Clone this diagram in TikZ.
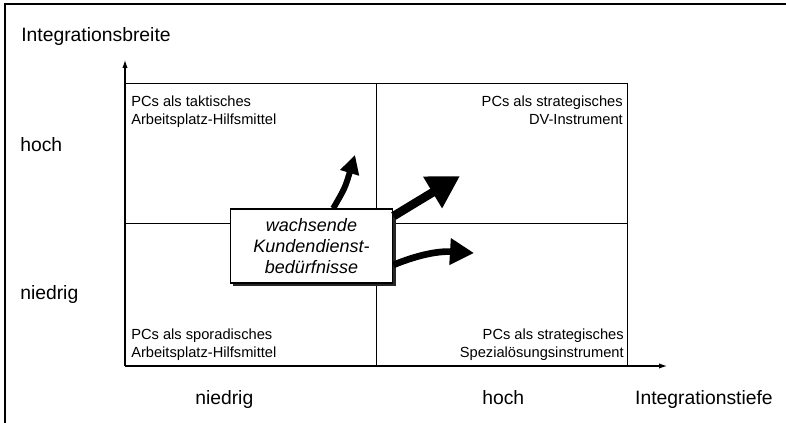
\documentclass[tikz,border=0pt]{standalone}
\usepackage{fontspec}
\setmainfont{Liberation Sans}
\usetikzlibrary{arrows.meta,shadows}

\begin{document}
\begin{tikzpicture}[x=0.75pt,y=-0.75pt,
		achse/.style={line width=0.8pt,-{Latex[length=6pt,width=4pt]}},
		feld/.style={line width=0.75pt},
		quad/.style={font=\fontsize{11}{13}\selectfont,inner sep=0pt},
		lbl/.style={font=\fontsize{14.5}{17}\selectfont,inner sep=0pt},
		kasten/.style={draw,fill=white,line width=0.9pt,align=center,
			font=\fontsize{13.5}{15.75}\selectfont\itshape,
			minimum width=122pt,minimum height=55.5pt,inner sep=2pt,
			drop shadow={shadow xshift=2pt,shadow yshift=-2pt,fill=black!85,opacity=1}},
		pfeil/.style={line width=#1,line cap=butt}]
				\useasboundingbox (0,0) rectangle (786,423);
				\draw[line width=1.3pt] (5,423) -- (5,4) -- (786,4);
				
				\coordinate (O) at (125,366);
				\coordinate (ytip) at (125,60);
				\coordinate (xtip) at (667,366);
				\draw[feld] (O) rectangle (627,84);
				\draw[feld] (376,84) -- (376,366);
				\draw[feld] (125,224) -- (627,224);
				\draw[achse] (O) -- (ytip);
				\draw[achse] (O) -- (xtip);
				
				\node[quad,anchor=north west,align=left] (tl) at (131,96) {PCs als taktisches\\Arbeitsplatz-Hilfsmittel};
				\node[quad,anchor=north east,align=right] (tr) at (623,96) {PCs als strategisches\\DV-Instrument};
				\node[quad,anchor=north west,align=left] (bl) at (131,329) {PCs als sporadisches\\Arbeitsplatz-Hilfsmittel};
				\node[quad,anchor=north east,align=right] (br) at (624,329) {PCs als strategisches\\Spezialösungsinstrument};
				
				\node[lbl,anchor=base west] (breite) at (21,42) {Integrationsbreite};
				\node[lbl,anchor=base west] (yhoch) at (20,152) {hoch};
				\node[lbl,anchor=base west] (yniedrig) at (20,300) {niedrig};
				\node[lbl,anchor=base west] (xniedrig) at (195,405) {niedrig};
				\node[lbl,anchor=base west] (xhoch) at (482,405) {hoch};
				\node[lbl,anchor=base east] (tiefe) at (773,405) {Integrationstiefe};
				
				\node[kasten] (kd) at (311.5,246) {wachsende\\Kundendienst-\\bedürfnisse};
				
				\coordinate (a1) at (355,155);
				\coordinate (a2) at (460,176);
				\coordinate (a3) at (474,253);
				\draw[pfeil=4.5pt,-{Triangle[length=14pt,width=14pt]}] (kd.60) .. controls (345,188) .. (a1);
				\draw[pfeil=6.5pt,-{Triangle[length=24pt,width=26pt]}] (kd.20) .. controls (420,200) .. (a2);
				\draw[pfeil=5pt,-{Triangle[length=18pt,width=19pt]}] (kd.-13) .. controls (420,254) and (440,251) .. (a3);
			\end{tikzpicture}
\end{document}
